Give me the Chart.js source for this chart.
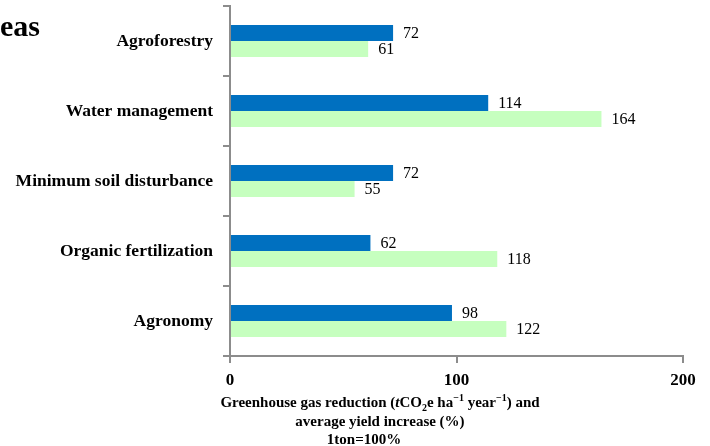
<!DOCTYPE html>
<html>
<head>
<meta charset="utf-8">
<script src="https://cdn.jsdelivr.net/npm/chart.js@4.4.0/dist/chart.umd.min.js"></script>
<style>
  html, body { margin: 0; padding: 0; background: #fff; }
  #wrap { position: relative; width: 710px; height: 446px; overflow: hidden; font-family: "Liberation Serif", "Times New Roman", serif; }
  #chart { position: absolute; left: 0; top: 0; }
  .head { position: absolute; left: 0; top: 11px; font-family: "Liberation Serif", serif; font-size: 30px; font-weight: bold; line-height: 30px; color: #000; }
  .xtitle { position: absolute; left: 130px; width: 500px; text-align: center; font-size: 15px; font-weight: bold; color: #000; line-height: 18.5px; top: 393px; }
  .xtitle sub, .xtitle sup { font-size: 10px; line-height: 0; }
  .last { display: inline-block; margin-right: 32px; }
</style>
</head>
<body>
<div id="wrap">
  <canvas id="chart" width="710" height="446"></canvas>
  <div class="head">eas</div>
  <div class="xtitle">Greenhouse gas reduction (<i>t</i>CO<sub>2</sub>e ha<sup>&minus;1</sup> year<sup>&minus;1</sup>) and<br>average yield increase (%)<br><span class="last">1ton=100%</span></div>
</div>
<script>
"use strict"

// categories, top to bottom
const practices = ["Agroforestry", "Water management", "Minimum soil disturbance", "Organic fertilization", "Agronomy"];
// blue series
const ghgReduction = [72, 114, 72, 62, 98];
// green series
const yieldIncrease = [61, 164, 55, 118, 122];
// x ticks
const xTicks = [0, 100, 200];

const axisGray = "#8c8c8c";

// draws the value to the right of every bar
const valueLabels = {
    id: 'valueLabels',
    afterDatasetsDraw: function(chart){
        const ctx = chart.ctx;
        ctx.save();
        ctx.font = '16px "Liberation Serif", serif';
        ctx.fillStyle = '#000';
        ctx.textAlign = 'left';
        ctx.textBaseline = 'middle';
        chart.data.datasets.forEach(function(ds, i){
            chart.getDatasetMeta(i).data.forEach(function(bar, j){
                ctx.fillText(ds.data[j], bar.x + 10, bar.y + 1);
            });
        });
        ctx.restore();
    }
};

new Chart(document.getElementById('chart').getContext('2d'), {
    type: 'bar',
    data: {
        labels: practices,
        datasets: [{
            data: ghgReduction,
            backgroundColor: '#0070C0',
            borderWidth: 0
        }, {
            data: yieldIncrease,
            backgroundColor: '#C6FFBF',
            borderWidth: 0
        }]
    },
    options: {
        indexAxis: 'y',
        responsive: false,
        animation: false,
        devicePixelRatio: 1,
        layout: { padding: { top: 6, right: 27, left: 0, bottom: 0 } },
        categoryPercentage: 0.46,
        barPercentage: 1,
        plugins: { legend: { display: false }, tooltip: { enabled: false } },
        scales: {
            x: {
                min: 0,
                max: 200,
                afterBuildTicks: function(scale){
                    scale.ticks = xTicks.map(function(v){ return { value: v }; });
                },
                afterFit: function(scale){
                    scale.height = 90;
                    scale.paddingLeft = 0;
                    scale.paddingRight = 0;
                },
                border: { color: axisGray, width: 2 },
                grid: { drawOnChartArea: false, drawTicks: true, tickLength: 7, color: axisGray, lineWidth: 2 },
                ticks: {
                    color: '#000',
                    padding: 7,
                    maxRotation: 0,
                    font: { family: '"Liberation Serif", serif', size: 17, weight: 'bold' }
                }
            },
            y: {
                afterFit: function(scale){
                    scale.width = 230;
                    scale.paddingTop = 0;
                    scale.paddingBottom = 0;
                },
                border: { color: axisGray, width: 2 },
                grid: { offset: true, drawOnChartArea: false, drawTicks: true, tickLength: 7, color: axisGray, lineWidth: 2 },
                ticks: {
                    color: '#000',
                    padding: 10,
                    font: { family: '"Liberation Serif", serif', size: 17.5, weight: 'bold' }
                }
            }
        }
    },
    plugins: [valueLabels]
});
</script>
</body>
</html>
